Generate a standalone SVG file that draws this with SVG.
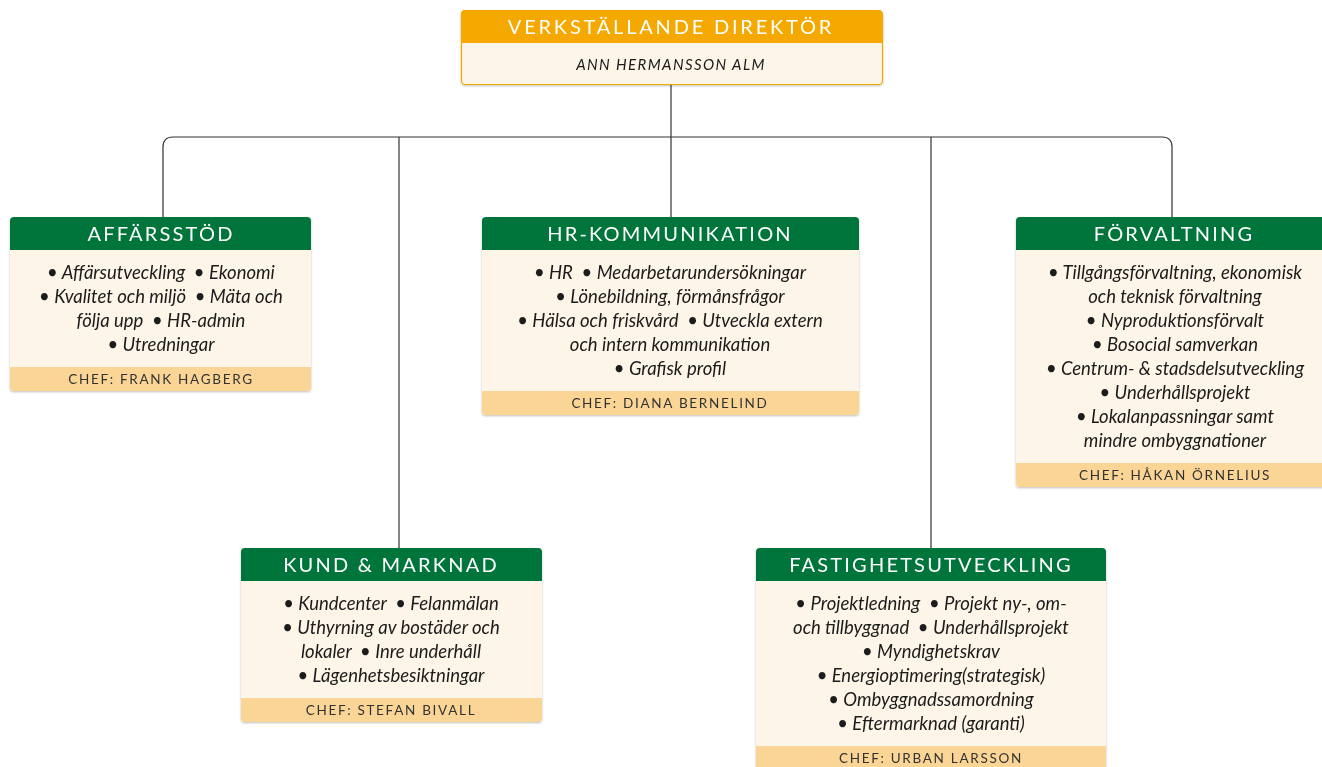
<svg xmlns="http://www.w3.org/2000/svg" width="1322" height="767" viewBox="0 0 1322 767">
<defs>
<filter id="sh" x="-5%" y="-5%" width="110%" height="115%">
<feDropShadow dx="0" dy="1" stdDeviation="1.2" flood-color="#000" flood-opacity="0.25"/>
</filter>
<style>
.hd{fill:#00753A}
.bd{fill:#FDF5E8}
.ft{fill:#FAD595}
.ht{font-family:Lato,"Open Sans",sans-serif;font-size:20px;fill:#fff;letter-spacing:2.2px;text-anchor:middle}
.bt{font-family:Lato,"Open Sans",sans-serif;font-style:italic;font-size:18.5px;fill:#1a1a1a;text-anchor:middle;white-space:pre}
.fx{font-family:Lato,"Open Sans",sans-serif;font-size:13.5px;fill:#333;letter-spacing:1.7px;text-anchor:middle}
.cn{fill:none;stroke:#333;stroke-width:1.2}
</style>
</defs>
<g id="connectors">
<path class="cn" d="M671 85V137"/>
<path class="cn" d="M163 217V147Q163 137 173 137H1162Q1172 137 1172 147V217"/>
<path class="cn" d="M671 137V217"/>
<path class="cn" d="M399 137V548"/>
<path class="cn" d="M931 137V548"/>
</g>
<g id="vd" filter="url(#sh)">
<rect x="461.5" y="10.5" width="421" height="74" rx="4" fill="#FDF5E8" stroke="#F2A900" stroke-width="1.2"/>
<path d="M461 14Q461 10 465 10H878Q882 10 882 14V43H461Z" fill="#F5A800"/>
<text class="ht" x="671" y="34" style="letter-spacing:2.8px">VERKSTÄLLANDE DIREKTÖR</text>
<text class="bt" x="671" y="70" style="font-size:15px;letter-spacing:1.4px">ANN HERMANSSON ALM</text>
</g>
<g id="affarsstod" filter="url(#sh)">
<rect class="bd" x="10" y="217" width="301" height="174" rx="4"/>
<path class="hd" d="M10 221Q10 217 14 217H307Q311 217 311 221V250H10Z"/>
<path class="ft" d="M10 367H311V387Q311 391 307 391H14Q10 391 10 387Z"/>
<text class="ht" x="161" y="241">AFFÄRSSTÖD</text>
<text class="bt" x="161" y="279">• Affärsutveckling  • Ekonomi</text>
<text class="bt" x="161" y="303">• Kvalitet och miljö  • Mäta och</text>
<text class="bt" x="161" y="327">följa upp  • HR-admin</text>
<text class="bt" x="161" y="351">• Utredningar</text>
<text class="fx" x="161" y="384">CHEF: FRANK HAGBERG</text>
</g>
<g id="hr" filter="url(#sh)">
<rect class="bd" x="482" y="217" width="377" height="198" rx="4"/>
<path class="hd" d="M482 221Q482 217 486 217H855Q859 217 859 221V250H482Z"/>
<path class="ft" d="M482 391H859V411Q859 415 855 415H486Q482 415 482 411Z"/>
<text class="ht" x="670" y="241">HR-KOMMUNIKATION</text>
<text class="bt" x="670" y="279">• HR  • Medarbetarundersökningar</text>
<text class="bt" x="670" y="303">• Lönebildning, förmånsfrågor</text>
<text class="bt" x="670" y="327">• Hälsa och friskvård  • Utveckla extern</text>
<text class="bt" x="670" y="351">och intern kommunikation</text>
<text class="bt" x="670" y="375">• Grafisk profil</text>
<text class="fx" x="670" y="408">CHEF: DIANA BERNELIND</text>
</g>
<g id="forvaltning" filter="url(#sh)">
<rect class="bd" x="1016" y="217" width="310" height="270" rx="4"/>
<path class="hd" d="M1016 221Q1016 217 1020 217H1326V250H1016Z"/>
<path class="ft" d="M1016 463H1326V487H1020Q1016 487 1016 483Z"/>
<text class="ht" x="1174" y="241">FÖRVALTNING</text>
<text class="bt" x="1175" y="279">• Tillgångsförvaltning, ekonomisk</text>
<text class="bt" x="1175" y="303">och teknisk förvaltning</text>
<text class="bt" x="1175" y="327">• Nyproduktionsförvalt</text>
<text class="bt" x="1175" y="351">• Bosocial samverkan</text>
<text class="bt" x="1175" y="375">• Centrum- &amp; stadsdelsutveckling</text>
<text class="bt" x="1175" y="399">• Underhållsprojekt</text>
<text class="bt" x="1175" y="423">• Lokalanpassningar samt</text>
<text class="bt" x="1175" y="447">mindre ombyggnationer</text>
<text class="fx" x="1175" y="480">CHEF: HÅKAN ÖRNELIUS</text>
</g>
<g id="kund" filter="url(#sh)">
<rect class="bd" x="241" y="548" width="301" height="174" rx="4"/>
<path class="hd" d="M241 552Q241 548 245 548H538Q542 548 542 552V581H241Z"/>
<path class="ft" d="M241 698H542V718Q542 722 538 722H245Q241 722 241 718Z"/>
<text class="ht" x="391" y="572">KUND &amp; MARKNAD</text>
<text class="bt" x="391" y="610">• Kundcenter  • Felanmälan</text>
<text class="bt" x="391" y="634">• Uthyrning av bostäder och</text>
<text class="bt" x="391" y="658">lokaler  • Inre underhåll</text>
<text class="bt" x="391" y="682">• Lägenhetsbesiktningar</text>
<text class="fx" x="391" y="715">CHEF: STEFAN BIVALL</text>
</g>
<g id="fastighet" filter="url(#sh)">
<rect class="bd" x="756" y="548" width="350" height="226" rx="4"/>
<path class="hd" d="M756 552Q756 548 760 548H1102Q1106 548 1106 552V581H756Z"/>
<path class="ft" d="M756 746H1106V774H756Z"/>
<text class="ht" x="931" y="572">FASTIGHETSUTVECKLING</text>
<text class="bt" x="931" y="610">• Projektledning  • Projekt ny-, om-</text>
<text class="bt" x="931" y="634">och tillbyggnad  • Underhållsprojekt</text>
<text class="bt" x="931" y="658">• Myndighetskrav</text>
<text class="bt" x="931" y="682">• Energioptimering(strategisk)</text>
<text class="bt" x="931" y="706">• Ombyggnadssamordning</text>
<text class="bt" x="931" y="730">• Eftermarknad (garanti)</text>
<text class="fx" x="931" y="763">CHEF: URBAN LARSSON</text>
</g>
</svg>
